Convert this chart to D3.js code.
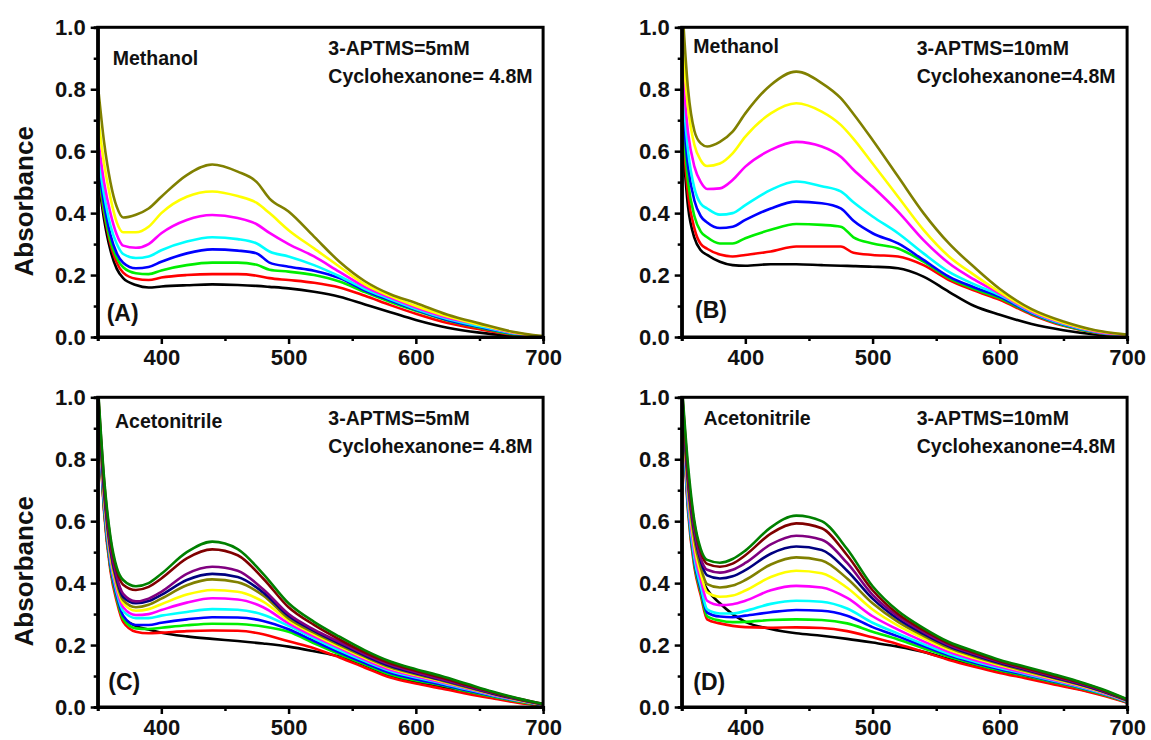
<!DOCTYPE html>
<html>
<head>
<meta charset="utf-8">
<title>Absorbance spectra</title>
<script src="https://cdn.jsdelivr.net/npm/d3@7"></script>
<style>
  body { margin: 0; background: #fff; }
  text { font-family: "Liberation Sans", Arial, sans-serif; font-weight: bold; fill: #111; }
  .axis path, .axis line { stroke: #000; }
  .axis path { stroke-width: 3; }
  .axis line { stroke-width: 2.5; }
  .axis text { font-size: 22px; font-family: "Liberation Sans", Arial, sans-serif; font-weight: bold; }
</style>
</head>
<body>
<script>
// wavelength grids (nm)
var wlMeOH = [350, 355, 360, 365, 370, 380, 390, 400, 420, 440, 460, 475, 485, 500, 520, 540, 560, 580, 600, 625, 650, 675, 700];
var wlMeCN = [350, 355, 360, 365, 370, 380, 390, 400, 420, 440, 460, 480, 500, 520, 540, 560, 580, 600, 620, 640, 660, 680, 700];

var xTicks = [400, 500, 600, 700];
var xMinor = [350, 450, 550, 650];
var yTicks = [0, 0.2, 0.4, 0.6, 0.8, 1.0];
var yMinor = [0.1, 0.3, 0.5, 0.7, 0.9];

var colorsA = ["#000000", "#ff0000", "#00ee00", "#0000ff", "#00ffff", "#ff00ff", "#ffff00", "#808000"];
var colorsC = ["#000000", "#ff0000", "#00ee00", "#0000ff", "#00ffff", "#ff00ff", "#ffff00", "#808000", "#000080", "#800080", "#800000", "#008000"];

// (A) Methanol, 3-APTMS 5 mM
var seriesA = [
  [.53, .38, .28, .22, .19, .168, .16, .163, .167, .17, .168, .165, .162, .157, .146, .13, .105, .08, .055, .03, .014, .004, 0],
  [.54, .40, .30, .24, .208, .188, .184, .192, .20, .203, .203, .198, .19, .184, .175, .16, .133, .103, .075, .045, .025, .008, 0],
  [.55, .41, .31, .255, .225, .206, .203, .215, .232, .24, .24, .233, .217, .211, .20, .179, .145, .113, .085, .053, .03, .01, 0],
  [.57, .43, .33, .27, .24, .222, .226, .243, .27, .283, .279, .27, .24, .227, .214, .19, .15, .118, .088, .055, .032, .012, 0],
  [.60, .46, .36, .30, .268, .255, .26, .28, .308, .322, .316, .302, .276, .26, .232, .196, .155, .122, .09, .058, .035, .013, 0],
  [.65, .50, .40, .33, .295, .288, .30, .335, .378, .394, .384, .364, .336, .30, .26, .21, .162, .127, .095, .062, .04, .015, 0],
  [.72, .56, .45, .37, .338, .338, .356, .40, .453, .47, .455, .433, .40, .345, .286, .227, .17, .132, .10, .066, .04, .016, 0],
  [.82, .63, .50, .42, .386, .395, .415, .453, .523, .557, .534, .50, .447, .405, .324, .243, .18, .138, .11, .072, .044, .018, .003]
];

// (B) Methanol, 3-APTMS 10 mM
var seriesB = [
  [.68, .42, .32, .28, .265, .243, .232, .23, .235, .235, .232, .23, .229, .227, .222, .195, .146, .10, .072, .042, .022, .008, 0],
  [.72, .46, .35, .30, .285, .266, .26, .265, .276, .292, .292, .292, .272, .265, .26, .232, .184, .15, .12, .072, .036, .014, .004],
  [.75, .50, .39, .34, .322, .302, .302, .319, .346, .365, .362, .356, .322, .302, .286, .243, .19, .155, .125, .075, .038, .015, .005],
  [.78, .55, .44, .39, .37, .352, .356, .378, .415, .437, .432, .415, .375, .335, .302, .249, .195, .16, .13, .077, .04, .016, .005],
  [.85, .60, .48, .43, .415, .395, .40, .426, .475, .502, .487, .47, .435, .389, .335, .27, .21, .17, .135, .08, .042, .017, .005],
  [.90, .66, .55, .50, .478, .48, .507, .55, .604, .63, .615, .582, .54, .485, .405, .313, .238, .185, .14, .082, .044, .018, .006],
  [.98, .74, .62, .57, .552, .56, .593, .647, .722, .755, .728, .685, .64, .56, .453, .346, .26, .20, .145, .085, .046, .02, .007],
  [1.1, .80, .665, .625, .615, .63, .663, .722, .814, .857, .82, .771, .72, .636, .518, .40, .302, .225, .155, .09, .05, .022, .008]
];

// (C) Acetonitrile, 3-APTMS 5 mM
var seriesC = [
  [1.0, .64, .45, .35, .29, .262, .25, .24, .228, .22, .213, .205, .195, .18, .163, .135, .10, .08, .064, .047, .031, .016, .005],
  [1.0, .63, .44, .34, .275, .243, .238, .24, .245, .247, .246, .235, .212, .19, .16, .127, .095, .076, .06, .043, .028, .014, .004],
  [1.0, .64, .45, .35, .285, .254, .252, .256, .264, .269, .268, .26, .243, .206, .17, .137, .105, .086, .07, .051, .034, .018, .006],
  [1.0, .65, .46, .36, .295, .265, .265, .272, .283, .29, .289, .278, .251, .213, .176, .142, .11, .09, .073, .054, .036, .02, .006],
  [1.0, .66, .47, .37, .31, .287, .287, .295, .307, .316, .314, .298, .262, .222, .183, .148, .116, .095, .077, .057, .038, .021, .007],
  [1.0, .67, .48, .38, .322, .297, .30, .313, .337, .351, .347, .322, .27, .228, .19, .153, .12, .099, .08, .06, .04, .022, .007],
  [1.01, .68, .49, .39, .335, .311, .316, .332, .363, .378, .372, .34, .279, .235, .195, .158, .125, .103, .083, .062, .042, .023, .008],
  [1.02, .69, .50, .40, .345, .322, .33, .35, .393, .412, .403, .36, .286, .24, .20, .162, .128, .106, .086, .064, .043, .024, .008],
  [1.02, .70, .51, .41, .355, .335, .342, .362, .41, .43, .42, .37, .294, .246, .205, .166, .132, .109, .088, .066, .044, .025, .009],
  [1.03, .71, .52, .42, .365, .341, .35, .372, .43, .453, .44, .38, .30, .25, .21, .17, .136, .112, .09, .068, .046, .026, .009],
  [1.04, .73, .54, .44, .395, .378, .388, .415, .48, .509, .49, .415, .322, .265, .218, .176, .141, .117, .095, .071, .048, .027, .01],
  [1.05, .74, .55, .45, .41, .39, .40, .43, .50, .534, .51, .43, .335, .275, .227, .183, .147, .122, .10, .075, .05, .028, .01]
];

// (D) Acetonitrile, 3-APTMS 10 mM
var seriesD = [
  [1.0, .66, .50, .42, .38, .335, .30, .275, .252, .238, .23, .22, .208, .195, .178, .155, .133, .113, .096, .078, .06, .04, .015],
  [1.0, .63, .45, .36, .283, .27, .262, .258, .256, .257, .255, .245, .225, .203, .178, .152, .13, .11, .093, .075, .058, .038, .014],
  [1.0, .64, .46, .37, .293, .279, .274, .275, .281, .283, .281, .27, .243, .218, .19, .162, .139, .118, .101, .082, .064, .042, .016],
  [1.0, .65, .47, .38, .305, .292, .29, .295, .306, .313, .311, .295, .258, .228, .197, .167, .143, .122, .104, .085, .066, .044, .017],
  [1.0, .66, .48, .39, .315, .302, .302, .31, .333, .343, .34, .318, .272, .237, .203, .171, .147, .126, .107, .087, .068, .045, .018],
  [1.0, .68, .50, .41, .343, .329, .332, .343, .377, .391, .386, .352, .293, .25, .212, .178, .152, .13, .11, .09, .07, .047, .019],
  [1.0, .70, .52, .43, .37, .356, .36, .376, .42, .44, .432, .385, .315, .263, .222, .185, .158, .135, .114, .093, .073, .049, .02],
  [1.01, .71, .54, .45, .397, .386, .392, .41, .46, .483, .473, .415, .335, .275, .23, .191, .163, .139, .117, .096, .075, .051, .021],
  [1.02, .73, .56, .47, .425, .415, .422, .442, .495, .518, .507, .44, .35, .284, .236, .196, .167, .142, .12, .098, .077, .052, .022],
  [1.03, .74, .57, .48, .443, .434, .443, .465, .525, .553, .54, .465, .362, .292, .242, .20, .171, .145, .123, .101, .079, .054, .023],
  [1.04, .76, .59, .50, .462, .453, .463, .49, .56, .593, .577, .49, .377, .30, .248, .205, .175, .148, .126, .104, .082, .056, .024],
  [1.05, .78, .60, .51, .475, .466, .478, .505, .58, .618, .60, .51, .39, .31, .255, .21, .18, .152, .13, .108, .085, .058, .025]
];

var letters = ["(A)", "(B)", "(C)", "(D)"];
var solvents = ["Methanol", "Methanol", "Acetonitrile", "Acetonitrile"];
var aptms = ["3-APTMS=5mM", "3-APTMS=10mM", "3-APTMS=5mM", "3-APTMS=10mM"];
var cyclo = ["Cyclohexanone= 4.8M", "Cyclohexanone=4.8M", "Cyclohexanone= 4.8M", "Cyclohexanone=4.8M"];

var w = 1151, h = 740;
var pw = 445.4, ph = 309.7;

var panels = [
  {x: 97.7, y: 27.3, wl: wlMeOH, series: seriesA, colors: colorsA, solv: [15, 38], conc: 230.6, lab: [9, 293.5], ylab: true},
  {x: 681.7, y: 27.3, wl: wlMeOH, series: seriesB, colors: colorsA, solv: [11.6, 26], conc: 235, lab: [13.3, 291], ylab: false},
  {x: 97.7, y: 397.3, wl: wlMeCN, series: seriesC, colors: colorsC, solv: [17.3, 31], conc: 230.6, lab: [10.6, 293], ylab: true},
  {x: 681.7, y: 397.3, wl: wlMeCN, series: seriesD, colors: colorsC, solv: [21.7, 28], conc: 235, lab: [11.6, 293], ylab: false}
];

var svg = d3.select("body").append("svg")
  .attr("width", w)
  .attr("height", h);

var xScale = d3.scaleLinear().domain([350, 700]).range([0, pw]);
var yScale = d3.scaleLinear().domain([0, 1]).range([ph, 0]);

panels.forEach(function(p, i) {
  var g = svg.append("g").attr("transform", "translate(" + p.x + "," + p.y + ")");

  g.append("clipPath").attr("id", "clip" + i)
    .append("rect").attr("width", pw).attr("height", ph);

  var line = d3.line()
    .x(function(d, k) { return xScale(p.wl[k]); })
    .y(function(d) { return yScale(d); })
    .curve(d3.curveMonotoneX);

  g.append("g").attr("clip-path", "url(#clip" + i + ")")
    .selectAll("path")
    .data(p.series)
    .enter()
    .append("path")
    .attr("d", line)
    .attr("fill", "none")
    .attr("stroke", function(d, k) { return p.colors[k]; })
    .attr("stroke-width", 2.6)
    .attr("stroke-linejoin", "round");

  // minor ticks first
  g.append("g").attr("class", "axis")
    .attr("transform", "translate(0," + ph + ")")
    .call(d3.axisBottom(xScale).tickValues(xMinor).tickSize(4).tickFormat(""));
  g.append("g").attr("class", "axis")
    .call(d3.axisLeft(yScale).tickValues(yMinor).tickSize(4).tickFormat(""));

  g.append("g").attr("class", "axis x")
    .attr("transform", "translate(0," + ph + ")")
    .call(d3.axisBottom(xScale).tickValues(xTicks).tickSize(7).tickPadding(5.5).tickSizeOuter(0));

  g.append("g").attr("class", "axis y")
    .call(d3.axisLeft(yScale).tickValues(yTicks).tickSize(7).tickPadding(5).tickSizeOuter(0)
      .tickFormat(d3.format(".1f")));

  // frame
  g.append("rect")
    .attr("width", pw).attr("height", ph)
    .attr("fill", "none").attr("stroke", "#000").attr("stroke-width", 3);

  g.append("text").attr("x", p.solv[0]).attr("y", p.solv[1])
    .style("font-size", "19.5px").text(solvents[i]);
  g.append("text").attr("x", p.conc).attr("y", 28)
    .style("font-size", "19.5px").text(aptms[i]);
  g.append("text").attr("x", p.conc).attr("y", 56)
    .style("font-size", "19.5px").text(cyclo[i]);
  g.append("text").attr("x", p.lab[0]).attr("y", p.lab[1])
    .style("font-size", "23px").text(letters[i]);

  if (p.ylab) {
    svg.append("text")
      .attr("transform", "translate(33," + (p.y + 174) + ") rotate(-90)")
      .style("text-anchor", "middle")
      .style("font-size", "26px")
      .text("Absorbance");
  }
});
</script>
</body>
</html>
